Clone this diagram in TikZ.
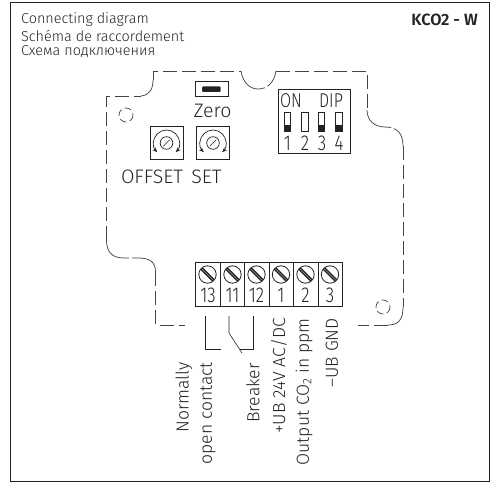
\documentclass[tikz,border=0pt]{standalone}
\usepackage{fontspec}
\setmainfont{Fira Sans}[UprightFont=* Light,BoldFont=* SemiBold]
\newfontfamily\narrowfont{Fira Sans}[UprightFont=* Light,FakeStretch=0.8]
\usetikzlibrary{arrows.meta}
\definecolor{ink}{RGB}{35,35,35}
\tikzset{
 x=1pt,y=-1pt,
 frameline/.style={draw=ink,line width=1pt},
 housing/.style={draw=ink!85,line width=0.75pt,dash pattern=on 14pt off 5pt},
 housingcurve/.style={draw=ink!85,line width=0.75pt,dash pattern=on 34pt off 3pt},
 hole/.style={draw=ink!85,line width=0.7pt,dash pattern=on 7pt off 3.5pt},
 boxline/.style={draw=ink,line width=0.7pt},
 labeltxt/.style={inner sep=0pt,text=ink,font=\fontsize{19.5}{19.5}\selectfont},
 diptxt/.style={inner sep=0pt,text=ink,font=\fontsize{20}{20}\narrowfont},
 numtxt/.style={inner sep=0pt,text=ink,font=\fontsize{21.5}{21.5}\narrowfont},
 small/.style={inner sep=0pt,anchor=west,text=ink,font=\fontsize{14.4}{14.4}\selectfont},
 vlabel/.style={inner sep=0pt,text=ink,rotate=90,anchor=east,font=\fontsize{17.5}{17.5}\selectfont},
 wire/.style={draw=ink,line width=0.6pt},
 pot/.pic={
   \draw[boxline] (-16.5,-16.5) rectangle (16.5,16.5);
   \draw[ink,line width=0.7pt] (0,0) circle[radius=6.3];
   \draw[ink,line width=0.7pt] (-3.2,3.2) -- (3.2,-3.2);
   \draw[ink,line width=0.7pt,{Stealth[length=5pt,width=4pt]}-{Stealth[length=5pt,width=4pt]}]
     (135:13) arc[start angle=135,end angle=405,radius=13];
 },
 screw/.pic={
   \draw[ink,line width=0.8pt] (0,0) circle[radius=8.7];
   \draw[ink,line width=3.4pt] (-6.1,-6.1) -- (6.1,6.1);
   \draw[ink!45,line width=0.6pt] (-5.7,-5.7) -- (5.7,5.7);
 },
 dipsw/.pic={
   \draw[boxline,fill=white] (-3.3,-9.5) rectangle (3.3,9.5);
 },
 dipon/.pic={
   \draw[boxline] (-3.3,-9.5) rectangle (3.3,9.5);
   \fill[ink] (-3.3,3.5) rectangle (3.3,9.5);
 },
}
\begin{document}
\begin{tikzpicture}
\useasboundingbox (0,0) rectangle (495,494);
\draw[frameline] (10,2.5) rectangle (489,481);
\node[small] (t1) at (21,20) {Connecting diagram};
\node[small] (t2) at (21,36) {Schéma de raccordement};
\node[small] (t3) at (21,52) {Схема подключения};
\node[anchor=east,inner sep=0pt,text=ink,font=\fontsize{16.3}{16.3}\selectfont\bfseries] (title) at (478,20) {KCO2 - W};
% housing
\draw[housing] (106.5,240) -- (106.5,96) -- (141,96);
\draw[housingcurve] (141,96) .. controls (149,95) and (153,90) .. (153,80);
\draw[housing] (153,80) -- (153,71) -- (241,71);
\draw[housingcurve] (241,71) .. controls (243,83) and (250,89) .. (258,89) .. controls (267,89) and (274,83) .. (276,71);
\draw[housing] (276,71) -- (367,71) -- (367,110);
\draw[housingcurve] (367,110) .. controls (367,121) and (375,127) .. (385,127) .. controls (397,127) and (403,133) .. (403,146);
\draw[housing] (403,146) -- (403,307);
\draw[housingcurve] (403,307) .. controls (403,319) and (399,325) .. (388,325);
\draw[housing] (388,325) -- (358,325);
\draw[housingcurve] (106.5,240) .. controls (106.5,252) and (112,258) .. (124,258) -- (138,258) .. controls (150,258) and (155.5,262) .. (155.5,272);
\draw[housing] (155.5,272) -- (155.5,325) -- (185,325);
\draw[hole] (126,115) circle[radius=7];
\draw[hole] (383,307) circle[radius=7];
% zero button
\node[boxline,draw,minimum width=33pt,minimum height=15pt,inner sep=0pt] (zbox) at (211.5,89) {};
\fill[ink,rounded corners=1pt] (202,86.5) rectangle (220.5,92);
\node[labeltxt] (zero) at (212.5,111) {Zero};
% pots
\pic at (166.5,143) {pot};
\pic at (213,143) {pot};
\node[labeltxt] (offset) at (152,177) {OFFSET};
\node[labeltxt] (setl) at (206.5,177) {SET};
% dip
\draw[boxline] (278,89) rectangle (350,153);
\node[diptxt] (on) at (291,100.5) {ON};
\node[diptxt] (dip) at (331,100.5) {DIP};
\pic at (287.5,121.5) {dipon};
\pic at (305,121.5) {dipsw};
\pic at (321.5,121.5) {dipon};
\pic at (339,121.5) {dipon};
\node[numtxt] (d1) at (287.5,143) {1};
\node[numtxt] (d2) at (305,143) {2};
\node[numtxt] (d3) at (322,143) {3};
\node[numtxt] (d4) at (339,143) {4};
% terminal block
\draw[boxline] (195,262) rectangle (342.5,306);
\foreach \x in {220,244.5,269,293.5,318} \draw[boxline] (\x,262) -- (\x,306);
\foreach \x in {207.5,232.5,256.5,281,305.5,330} \pic at (\x,274.5) {screw};
\node[numtxt] (n13) at (208,295) {13};
\node[numtxt] (n11) at (232.5,295) {11};
\node[numtxt] (n12) at (256.5,295) {12};
\node[numtxt] (n1) at (281,295) {1};
\node[numtxt] (n2) at (305.5,295) {2};
\node[numtxt] (n3) at (330,295) {3};
% wires
\coordinate (w13) at (205,316);
\coordinate (w13e) at (221,349);
\coordinate (w11) at (229,316);
\coordinate (w11e) at (242,353);
\coordinate (w12) at (253.5,316);
\coordinate (w12e) at (239.5,349);
\draw[wire] (w13) -- (205,349) -- (w13e);
\draw[wire] (w11) -- (229,333) -- (w11e);
\draw[wire] (w12) -- (253.5,349) -- (w12e);
% vertical labels
\node[vlabel] (l1) at (184,362) {Normally};
\node[vlabel] (l2) at (208,362) {open contact};
\node[vlabel] (l3) at (253,363) {Breaker};
\node[vlabel] (l4) at (279,318) {+UB 24V AC/DC};
\node[vlabel] (l5) at (304,318) {Output CO\textsubscript{2} in ppm};
\node[vlabel] (l6) at (332,318) {–UB GND};
\end{tikzpicture}
\end{document}
